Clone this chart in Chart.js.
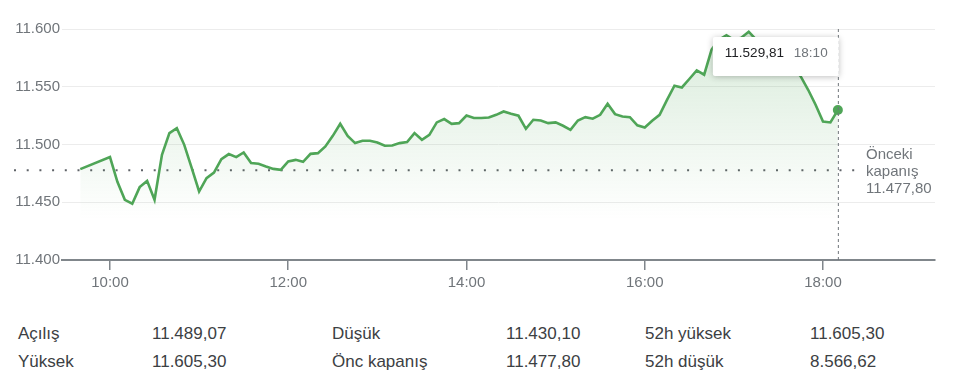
<!DOCTYPE html>
<html lang="tr">
<head>
<meta charset="UTF-8">
<script src="https://cdn.jsdelivr.net/npm/chart.js"></script>
<title>BIST 100</title>
<style>
  body { margin: 0; background: #fff; font-family: "Liberation Sans", Arial, Helvetica, sans-serif; }
  .grafico { position: relative; width: 960px; height: 300px; }
  .istatistik { position: absolute; font-size: 17px; line-height: 20px; color: #3c4043; white-space: nowrap; }
</style>
</head>
<body>
<div class="grafico"><canvas id="grafik"></canvas></div>
<div id="tablo"></div>

<script>
// saatler ve endeks degerleri (5 dakikalik)
const saatler = [
  '09:40', '10:00', '10:05', '10:10', '10:15', '10:20', '10:25', '10:30', '10:35', '10:40', '10:45', '10:50', '10:55',
  '11:00', '11:05', '11:10', '11:15', '11:20', '11:25', '11:30', '11:35', '11:40', '11:45', '11:50', '11:55',
  '12:00', '12:05', '12:10', '12:15', '12:20', '12:25', '12:30', '12:35', '12:40', '12:45', '12:50', '12:55',
  '13:00', '13:05', '13:10', '13:15', '13:20', '13:25', '13:30', '13:35', '13:40', '13:45', '13:50', '13:55',
  '14:00', '14:05', '14:10', '14:15', '14:20', '14:25', '14:30', '14:35', '14:40', '14:45', '14:50', '14:55',
  '15:00', '15:05', '15:10', '15:15', '15:20', '15:25', '15:30', '15:35', '15:40', '15:45', '15:50', '15:55',
  '16:00', '16:05', '16:10', '16:15', '16:20', '16:25', '16:30', '16:35', '16:40', '16:45', '16:50', '16:55',
  '17:00', '17:05', '17:10', '17:15', '17:20', '17:25', '17:30', '17:35', '17:40', '17:45', '17:50', '17:55',
  '18:00', '18:05', '18:10'
]
const degerler = [
  11478.7, 11489.1, 11467.7, 11452.1, 11448.7, 11463.1, 11468.5, 11452.1, 11491.1, 11509.9, 11514.2, 11499.7, 11479.8,
  11459.3, 11470.9, 11475.7, 11487.3, 11491.7, 11489.1, 11493.1, 11483.9, 11483.3, 11480.9, 11478.9, 11478.1,
  11485.3, 11486.7, 11485.0, 11491.9, 11492.5, 11498.3, 11507.5, 11517.9, 11507.5, 11501.2, 11503.2, 11503.2,
  11501.7, 11498.9, 11499.1, 11501.2, 11502.1, 11509.9, 11504.1, 11508.4, 11519.1, 11522.0, 11517.9, 11518.5,
  11525.1, 11522.9, 11522.9, 11523.4, 11525.7, 11528.6, 11526.6, 11524.9, 11513.6, 11521.4, 11520.8, 11518.5,
  11519.1, 11516.2, 11512.7, 11520.8, 11523.7, 11522.3, 11525.7, 11535.3, 11526.3, 11524.3, 11523.7, 11516.6,
  11514.7, 11520.5, 11525.7, 11538.7, 11550.9, 11549.4, 11556.7, 11564.1, 11560.4, 11582.1, 11590.7, 11594.6,
  11590.7, 11592.5, 11597.7, 11590.7, 11586.4, 11582.1, 11580.3, 11575.1, 11566.5, 11558.9, 11547.4, 11534.4,
  11519.9, 11519.1, 11529.81
]
const oncekiKapanis = 11477.80
const yTikleri = [11400, 11450, 11500, 11550, 11600]
const xTikleri = ['10:00', '12:00', '14:00', '16:00', '18:00']

const istatistikler = [
  ['Açılış', '11.489,07', 'Düşük', '11.430,10', '52h yüksek', '11.605,30'],
  ['Yüksek', '11.605,30', 'Önc kapanış', '11.477,80', '52h düşük', '8.566,62']
]

function dakika(s) {
  var p = s.split(':')
  return Number(p[0]) * 60 + Number(p[1])
}

function sayiYaz(v, ondalik) {
  var parca = v.toFixed(ondalik).split('.')
  var tam = parca[0].replace(/\B(?=(\d{3})+(?!\d))/g, '.')
  return parca.length > 1 ? tam + ',' + parca[1] : tam
}

const noktalar = saatler.map(function (s, i) { return { x: dakika(s), y: degerler[i] } })
const son = noktalar.length - 1
const yesil = '#4fa557'
const gri = '#70757a'
const yazi = '"Liberation Sans", Arial, Helvetica, sans-serif'

const ekstralar = {
  id: 'ekstralar',
  beforeDatasetsDraw(chart) {
    const ctx = chart.ctx
    const y = chart.scales.y.getPixelForValue(oncekiKapanis)
    const xSon = chart.scales.x.getPixelForValue(noktalar[son].x)
    ctx.save()
    ctx.strokeStyle = '#5f6368'
    ctx.lineWidth = 2
    ctx.setLineDash([2, 10.7])
    ctx.beginPath()
    ctx.moveTo(14, y)
    ctx.lineTo(xSon + 20, y)
    ctx.stroke()
    ctx.restore()
  },
  afterDatasetsDraw(chart) {
    const ctx = chart.ctx
    const alan = chart.chartArea
    const xSon = chart.scales.x.getPixelForValue(noktalar[son].x)
    const yKapanis = chart.scales.y.getPixelForValue(oncekiKapanis)
    ctx.save()
    // dikey kesikli cizgi
    ctx.strokeStyle = gri
    ctx.lineWidth = 1
    ctx.setLineDash([3, 3])
    ctx.beginPath()
    ctx.moveTo(xSon + 0.5, alan.top)
    ctx.lineTo(xSon + 0.5, alan.bottom)
    ctx.stroke()
    ctx.setLineDash([])

    // tooltip kutusu
    const w = 126, h = 39
    const bx = xSon - w + 1, by = 37
    ctx.shadowColor = 'rgba(0,0,0,0.25)'
    ctx.shadowBlur = 6
    ctx.shadowOffsetY = 1
    ctx.fillStyle = '#fff'
    ctx.beginPath()
    ctx.roundRect(bx, by, w, h, 2)
    ctx.fill()
    ctx.shadowColor = 'transparent'
    ctx.textBaseline = 'middle'
    ctx.textAlign = 'left'
    ctx.font = '13.5px ' + yazi
    ctx.fillStyle = '#202124'
    ctx.fillText(sayiYaz(degerler[son], 2), bx + 12, by + 16.5)
    ctx.fillStyle = gri
    ctx.fillText(saatler[son], bx + 81, by + 16.5)

    // onceki kapanis etiketi
    ctx.font = '15px ' + yazi
    ctx.fillStyle = gri
    ctx.fillText('Önceki', 866, yKapanis - 15)
    ctx.fillText('kapanış', 866, yKapanis + 2)
    ctx.fillText(sayiYaz(oncekiKapanis, 2), 866, yKapanis + 19)
    ctx.restore()
  }
}

const config = {
  type: 'line',
  data: {
    datasets: [{
      data: noktalar,
      borderColor: yesil,
      borderWidth: 2.6,
      tension: 0,
      fill: 'start',
      backgroundColor: function (c) {
        const alan = c.chart.chartArea
        if (!alan) return 'rgba(79,165,87,0.1)'
        const g = c.chart.ctx.createLinearGradient(0, alan.top, 0, alan.bottom - 40)
        g.addColorStop(0, 'rgba(79,165,87,0.22)')
        g.addColorStop(1, 'rgba(79,165,87,0)')
        return g
      },
      pointRadius: function (c) { return c.dataIndex === son ? 5 : 0 },
      pointBackgroundColor: yesil,
      pointBorderWidth: 0,
      pointHoverRadius: 0
    }]
  },
  options: {
    responsive: false,
    animation: false,
    events: [],
    layout: { padding: { top: 29, right: 25, left: 0, bottom: 0 } },
    plugins: { legend: { display: false }, tooltip: { enabled: false } },
    scales: {
      x: {
        type: 'linear',
        min: 567.7,
        max: 1155.4,
        afterFit: function (s) { s.height = 40 },
        afterBuildTicks: function (s) { s.ticks = xTikleri.map(function (t) { return { value: dakika(t) } }) },
        ticks: {
          padding: 4,
          color: gri,
          font: { family: yazi, size: 15 },
          maxRotation: 0,
          callback: function (v) {
            var sa = Math.floor(v / 60), dk = v % 60
            return String(sa).padStart(2, '0') + ':' + String(dk).padStart(2, '0')
          }
        },
        grid: { drawOnChartArea: false, drawTicks: true, tickLength: 10, color: '#80868b', lineWidth: 1.5 },
        border: { display: true, color: '#80868b', width: 2 }
      },
      y: {
        min: 11400,
        max: 11600,
        afterFit: function (s) { s.width = 62 },
        afterBuildTicks: function (s) { s.ticks = yTikleri.map(function (t) { return { value: t } }) },
        ticks: {
          padding: 2,
          color: gri,
          font: { family: yazi, size: 15 },
          callback: function (v) { return sayiYaz(v, 0) }
        },
        grid: { drawTicks: false, color: '#ececec', lineWidth: 1 },
        border: { display: false }
      }
    }
  },
  plugins: [ekstralar]
}

const cv = document.getElementById('grafik')
cv.width = 960
cv.height = 300
var grafik = new Chart(cv, config)

// alttaki istatistik tablosu
const sutunlar = [18, 152, 332, 506, 645, 810]
const satirlar = [324, 352]
var tablo = document.getElementById('tablo')
istatistikler.forEach(function (satir, i) {
  satir.forEach(function (metin, j) {
    var d = document.createElement('div')
    d.className = 'istatistik'
    d.style.left = sutunlar[j] + 'px'
    d.style.top = satirlar[i] + 'px'
    d.textContent = metin
    tablo.appendChild(d)
  })
})
</script>
</body>
</html>
